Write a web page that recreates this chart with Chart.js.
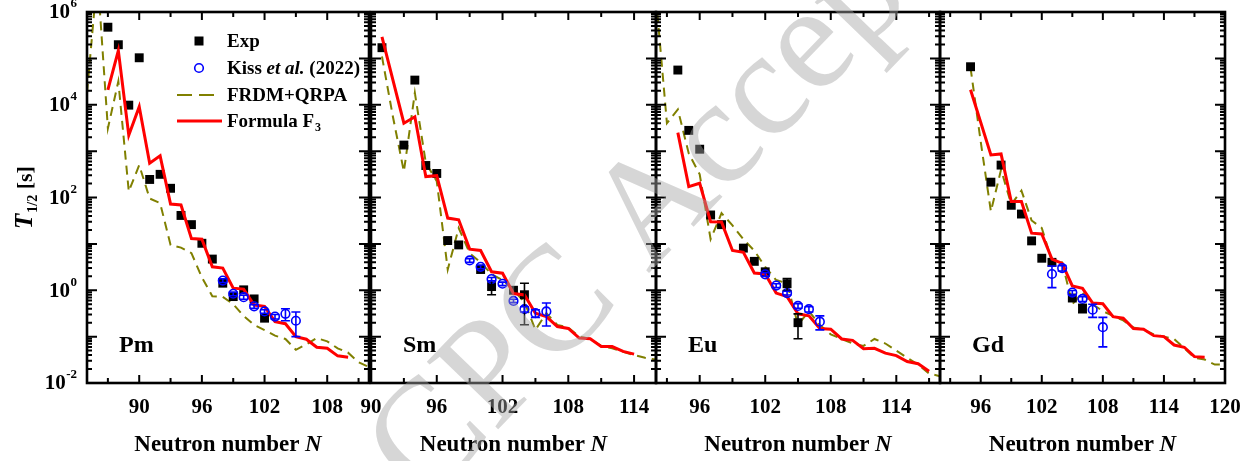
<!DOCTYPE html>
<html><head><meta charset="utf-8">
<script src="https://cdn.jsdelivr.net/npm/chart.js@4/dist/chart.umd.min.js"></script>
<style>
html,body{margin:0;padding:0;background:#fff;}
#wrap{position:relative;width:1255px;height:461px;overflow:hidden;background:#fff;}
#wrap canvas{position:absolute;left:0;top:0;}
</style></head><body>
<div id="wrap">
<canvas id="c0" width="1255" height="461"></canvas>
<canvas id="c1" width="1255" height="461"></canvas>
<canvas id="c2" width="1255" height="461"></canvas>
<canvas id="c3" width="1255" height="461"></canvas>
</div>
<script>
// ---------------- DATA ----------------
// Pm
const pmExpN = [87,88,89,90,91,92,93,94,95,96,97,98,99,100,101,102];
const pmExpT = [4.7e5,1.97e5,9.8e3,1.03e5,245,316,158,41,26,10.3,4.7,1.42,0.73,1.02,0.65,0.25];
const pmExpErr = [0,0,0,0,0,0,0,0,0,0,0,0,0,0,0,0];
const pmKissN = [98,99,100,101,102,103,104,105];
const pmKissT = [1.62,0.84,0.71,0.45,0.35,0.27,0.31,0.22];
const pmKissErr = [0.15,0.08,0.07,0.04,0.03,0.03,0.09,0.12];
const pmFrdmN = [85,86,87,88,89,90,91,92,93,94,95,96,97,98,99,100,101,102,103,104,105,106,107,108,109,110,111,112];
const pmFrdmT = [1.8e4,6.3e6,3.1e3,3.2e4,135,500,95,76,9.5,8.3,6.3,1.9,0.74,0.72,0.5,0.28,0.178,0.138,0.105,0.089,0.052,0.068,0.093,0.079,0.056,0.045,0.028,0.022];
const pmF3N = [87,88,89,90,91,92,93,94,95,96,97,98,99,100,101,102,103,104,105,106,107,108,109,110];
const pmF3T = [2.1e4,1.47e5,2.2e3,9.1e3,550,790,72,69,13,12.6,3.2,3.0,1.11,1.06,0.48,0.45,0.21,0.19,0.10,0.088,0.059,0.056,0.0385,0.036];
// Sm
const smExpN = [91,93,94,95,96,97,98,100,101,103,104];
const smExpT = [1.7e5,1.35e3,3.4e4,490,330,11.8,9.5,2.8,1.2,1.0,0.8];
const smExpErr = [0,0,0,0,0,0,0,0,0.4,0,0.62];
const smKissN = [99,100,101,102,103,104,105,106];
const smKissT = [4.4,3.2,1.74,1.38,0.59,0.39,0.32,0.35];
const smKissErr = [0.4,0.3,0.15,0.12,0.05,0.05,0.06,0.18];
const smFrdmN = [91,92,93,94,95,96,97,98,99,100,101,102,103,104,105,106,107,108,109,110,111,112,113,114,115,116];
const smFrdmT = [1.1e5,5.5e3,363,1.8e4,560,224,2.8,22,6.3,4.0,2.2,1.66,1.0,0.56,0.14,0.32,0.178,0.158,0.1,0.089,0.063,0.056,0.047,0.04,0.035,0.032];
const smF3N = [91,93,94,95,96,97,98,99,100,101,102,103,104,105,106,107,108,109,110,111,112,113,114];
const smF3T = [2.9e5,4.0e3,5.5e3,282,295,36,33,7.7,7.2,2.5,2.33,0.85,0.79,0.32,0.27,0.165,0.15,0.093,0.09,0.061,0.061,0.048,0.042];
// Eu
const euExpN = [94,95,96,97,98,100,101,102,104,105];
const euExpT = [5.6e4,2.8e3,1.1e3,42,26,8.1,4.2,2.5,1.38,0.2];
const euExpErr = [0,0,0,0,0,0,0,0,0.4,0.11];
const euKissN = [102,103,104,105,106,107];
const euKissT = [2.2,1.26,0.87,0.46,0.39,0.21];
const euKissErr = [0.2,0.12,0.08,0.05,0.05,0.07];
const euFrdmN = [92,93,94,95,96,97,98,99,100,101,102,103,104,105,106,107,108,109,110,111,112,113,114,115,116,117,118];
const euFrdmT = [2e6,4e3,7.9e3,890,316,12.6,46,25,12.6,7.1,3.2,1.66,1.41,0.178,0.355,0.178,0.112,0.089,0.071,0.063,0.089,0.071,0.05,0.035,0.025,0.016,0.014];
const euF3N = [94,95,96,97,98,99,100,101,102,103,104,105,106,107,108,109,110,111,112,113,114,115,116,117];
const euF3T = [2.5e3,172,203,30,29.5,7.2,6.6,2.35,2.25,0.87,0.73,0.31,0.28,0.15,0.145,0.089,0.083,0.055,0.056,0.044,0.039,0.029,0.026,0.018];
// Gd
const gdExpN = [95,97,98,99,100,101,102,103,105,106];
const gdExpT = [6.6e4,214,500,68,44,11.6,4.9,4.0,0.68,0.41];
const gdExpErr = [0,0,0,0,0,0,0,0,0,0.08];
const gdKissN = [103,104,105,106,107,108];
const gdKissT = [2.24,3.0,0.89,0.65,0.38,0.16];
const gdKissErr = [1.1,0.4,0.1,0.08,0.12,0.1];
const gdFrdmN = [95,96,97,98,99,100,101,102,103,104,105,106,107,108,109,110,111,112,113,114,115,116,117,118,119,120];
const gdFrdmT = [6.3e4,1.6e3,50,400,71,141,32,22,4.2,4.0,0.5,0.89,0.5,0.355,0.28,0.224,0.158,0.141,0.112,0.1,0.089,0.056,0.035,0.032,0.025,0.025];
const gdF3N = [95,97,98,99,100,101,102,103,104,105,106,107,108,109,110,111,112,113,114,115,116,117,118];
const gdF3T = [2.1e4,830,870,82,82,17,16.4,4.7,3.8,1.24,1.1,0.53,0.51,0.27,0.25,0.15,0.145,0.105,0.1,0.066,0.059,0.037,0.036];

// tick labels
const pmXLabels = [90,96,102,108];   const pmXMinor = [87,93,99,105,111];
const smXLabels = [90,96,102,108,114]; const smXMinor = [93,99,105,111];
const euXLabels = [96,102,108,114];  const euXMinor = [93,99,105,111,117];
const gdXLabels = [96,102,108,114,120]; const gdXMinor = [93,99,105,111,117];
const yDecades = [-2,-1,0,1,2,3,4,5,6];
const yLabelExps = [-2,0,2,4,6];
const yMinorMult = [2,3,4,5,6,7,8,9];

const seriesNames = ['Exp','Kiss et al. (2022)','FRDM+QRPA','Formula F3'];
const elementNames = ['Pm','Sm','Eu','Gd'];

// ---------------- LAYOUT / STYLE ----------------
const W = 1255, H = 461, TOP = 12, BOTTOM = 383;
const SERIF = '"Liberation Serif","Times New Roman",serif';
const panels = [
  {left:87, right:369, xmin:85, xmax:112, labels:pmXLabels, minor:pmXMinor,
   exp:[pmExpN,pmExpT,pmExpErr], kiss:[pmKissN,pmKissT,pmKissErr], frdm:[pmFrdmN,pmFrdmT], f3:[pmF3N,pmF3T]},
  {left:371, right:656, xmin:90, xmax:116, labels:smXLabels, minor:smXMinor,
   exp:[smExpN,smExpT,smExpErr], kiss:[smKissN,smKissT,smKissErr], frdm:[smFrdmN,smFrdmT], f3:[smF3N,smF3T]},
  {left:656, right:940, xmin:92, xmax:118, labels:euXLabels, minor:euXMinor,
   exp:[euExpN,euExpT,euExpErr], kiss:[euKissN,euKissT,euKissErr], frdm:[euFrdmN,euFrdmT], f3:[euF3N,euF3T]},
  {left:940, right:1225, xmin:92, xmax:120, labels:gdXLabels, minor:gdXMinor,
   exp:[gdExpN,gdExpT,gdExpErr], kiss:[gdKissN,gdKissT,gdKissErr], frdm:[gdFrdmN,gdFrdmT], f3:[gdF3N,gdF3T]}
];
const pts = (ns, ts) => ns.map((n,i)=>({x:n, y:ts[i]}));

function errorBars(ctx, chart, set, color){
  const x = chart.scales.x, y = chart.scales.y, a = chart.chartArea;
  const [ns, ts, es] = set;
  ctx.save();
  ctx.beginPath(); ctx.rect(a.left, a.top, a.right-a.left, a.bottom-a.top); ctx.clip();
  ctx.strokeStyle = color; ctx.lineWidth = 1.6;
  ns.forEach((n,i)=>{
    const e = es[i]; if(!e) return;
    const px = x.getPixelForValue(n);
    const lo = Math.max(ts[i]-e, 1e-3);
    const y1 = y.getPixelForValue(lo), y2 = y.getPixelForValue(ts[i]+e);
    ctx.beginPath();
    ctx.moveTo(px, y1); ctx.lineTo(px, y2);
    ctx.moveTo(px-4.5, y1); ctx.lineTo(px+4.5, y1);
    ctx.moveTo(px-4.5, y2); ctx.lineTo(px+4.5, y2);
    ctx.stroke();
  });
  ctx.restore();
}

function drawFrame(ctx, chart, p, idx){
  const x = chart.scales.x, y = chart.scales.y, a = chart.chartArea;
  ctx.save();
  ctx.strokeStyle = '#000'; ctx.lineWidth = 2;
  const vt = (px, len) => { ctx.beginPath(); ctx.moveTo(px, a.bottom); ctx.lineTo(px, a.bottom-len); ctx.moveTo(px, a.top); ctx.lineTo(px, a.top+len); ctx.stroke(); };
  const ht = (py, len) => { ctx.beginPath(); ctx.moveTo(a.left, py); ctx.lineTo(a.left+len, py); ctx.moveTo(a.right, py); ctx.lineTo(a.right-len, py); ctx.stroke(); };
  p.labels.forEach(v => { if (v > p.xmin && v < p.xmax) vt(x.getPixelForValue(v), 8); });
  p.minor.forEach(v => vt(x.getPixelForValue(v), 5));
  yDecades.forEach(e => {
    ht(y.getPixelForValue(Math.pow(10,e)), 10);
    if (e < 6) yMinorMult.forEach(m => ht(y.getPixelForValue(m*Math.pow(10,e)), 5));
  });
  ctx.lineWidth = 2.6;
  ctx.strokeRect(a.left, a.top, a.right-a.left, a.bottom-a.top);
  // x tick labels
  ctx.fillStyle = '#000';
  ctx.font = 'bold 21px ' + SERIF;
  ctx.textAlign = 'center'; ctx.textBaseline = 'middle';
  p.labels.forEach(v => ctx.fillText(String(v), x.getPixelForValue(v), 408));
  // x title
  const cx = (a.left + a.right)/2;
  ctx.font = 'bold 23px ' + SERIF;
  const t1 = 'Neutron number ';
  const w1 = ctx.measureText(t1).width;
  ctx.font = 'italic bold 23px ' + SERIF;
  const w2 = ctx.measureText('N').width;
  const sx = cx - (w1+w2)/2;
  ctx.textAlign = 'left';
  ctx.font = 'bold 23px ' + SERIF; ctx.fillText(t1, sx, 445);
  ctx.font = 'italic bold 23px ' + SERIF; ctx.fillText('N', sx + w1, 445);
  // element label
  ctx.font = 'bold 24px ' + SERIF; ctx.textBaseline = 'alphabetic';
  ctx.fillText(elementNames[idx], a.left + 32, 352);
  ctx.restore();
}

function drawYAxis(ctx, chart){
  const y = chart.scales.y;
  ctx.save();
  ctx.fillStyle = '#000'; ctx.textBaseline = 'middle';
  yLabelExps.forEach(e => {
    const py = y.getPixelForValue(Math.pow(10,e));
    const sup = e < 0 ? '-' + Math.abs(e) : String(e);
    ctx.font = 'bold 13px ' + SERIF;
    const ws = ctx.measureText(sup).width;
    const right = 77;
    ctx.textAlign = 'left';
    ctx.fillText(sup, right - ws, py - 8);
    ctx.font = 'bold 21px ' + SERIF;
    ctx.textAlign = 'right';
    ctx.fillText('10', right - ws - 0.5, py + 1);
  });
  // y title: T_{1/2} [s]
  ctx.translate(24, 198); ctx.rotate(-Math.PI/2);
  ctx.font = 'italic bold 25px ' + SERIF; const wT = ctx.measureText('T').width;
  ctx.font = 'bold 14px ' + SERIF; const wS = ctx.measureText('1/2').width;
  ctx.font = 'bold 22px ' + SERIF; const wR = ctx.measureText(' [s]').width;
  let sx = -(wT + wS + wR)/2;
  ctx.textAlign = 'left'; ctx.textBaseline = 'alphabetic';
  ctx.font = 'italic bold 25px ' + SERIF; ctx.fillText('T', sx, 8); sx += wT + 1;
  ctx.font = 'bold 14px ' + SERIF; ctx.fillText('1/2', sx, 13); sx += wS;
  ctx.font = 'bold 22px ' + SERIF; ctx.fillText(' [s]', sx, 8);
  ctx.restore();
}

function drawLegend(ctx){
  ctx.save();
  ctx.fillStyle = '#000';
  ctx.fillRect(194.5, 36.5, 9, 9);
  ctx.strokeStyle = '#0000ff'; ctx.lineWidth = 1.6;
  ctx.beginPath(); ctx.arc(199, 68, 4.3, 0, 2*Math.PI); ctx.stroke();
  ctx.strokeStyle = '#808000'; ctx.lineWidth = 2; ctx.setLineDash([15,7]);
  ctx.beginPath(); ctx.moveTo(177, 95); ctx.lineTo(214, 95); ctx.stroke();
  ctx.setLineDash([]);
  ctx.strokeStyle = '#ff0000'; ctx.lineWidth = 3;
  ctx.beginPath(); ctx.moveTo(177, 121); ctx.lineTo(222, 121); ctx.stroke();
  ctx.fillStyle = '#000'; ctx.textBaseline = 'middle'; ctx.textAlign = 'left';
  const F = 'bold 19px ' + SERIF, FI = 'italic bold 19px ' + SERIF;
  ctx.font = F; ctx.fillText(seriesNames[0], 227, 42);
  let x = 227;
  ctx.font = F; ctx.fillText('Kiss ', x, 69); x += ctx.measureText('Kiss ').width;
  ctx.font = FI; ctx.fillText('et al.', x, 69); x += ctx.measureText('et al.').width;
  ctx.font = F; ctx.fillText(' (2022)', x, 69);
  ctx.fillText(seriesNames[2], 227, 96);
  ctx.fillText('Formula F', 227, 122);
  const wf = ctx.measureText('Formula F').width;
  ctx.font = 'bold 12px ' + SERIF; ctx.fillText('3', 227 + wf + 1, 128);
  ctx.restore();
}

function drawWatermark(ctx){
  ctx.save();
  ctx.translate(425, 505); ctx.rotate(-46*Math.PI/180);
  ctx.font = '150px ' + SERIF;
  ctx.fillStyle = 'rgba(165,165,165,0.45)';
  ctx.textBaseline = 'alphabetic'; ctx.textAlign = 'left';
  ctx.fillText('CPC Accepted', 0, 0);
  ctx.restore();
}

panels.forEach((p, idx) => {
  const ctx = document.getElementById('c'+idx).getContext('2d');
  new Chart(ctx, {
    type: 'scatter',
    data: { datasets: [
      {label: seriesNames[2], data: pts(p.frdm[0], p.frdm[1]), showLine:true, borderColor:'#808000', borderWidth:2, borderDash:[9,6], pointRadius:0, order:4},
      {label: seriesNames[3], data: pts(p.f3[0], p.f3[1]), showLine:true, borderColor:'#ff0000', borderWidth:3, pointRadius:0, order:2},
      {label: seriesNames[0], data: pts(p.exp[0], p.exp[1]), pointStyle:'rect', pointRadius:6.3, backgroundColor:'#000', borderColor:'#000', borderWidth:0, order:3},
      {label: seriesNames[1], data: pts(p.kiss[0], p.kiss[1]), pointStyle:'circle', pointRadius:4.3, backgroundColor:'rgba(255,255,255,0)', borderColor:'#0000ff', borderWidth:1.6, order:1}
    ]},
    options: {
      responsive:false, animation:false, devicePixelRatio:1, events:[],
      layout:{padding:{left: idx===0 ? 0 : p.left, right: W - p.right, top: TOP, bottom: 0}},
      plugins:{legend:{display:false}, tooltip:{enabled:false}},
      scales:{
        x:{type:'linear', min:p.xmin, max:p.xmax, grid:{display:false}, border:{display:false}, ticks:{display:false},
           afterFit: s => { s.height = H - BOTTOM; }},
        y:{type:'logarithmic', min:1e-2, max:1e6, grid:{display:false}, border:{display:false}, ticks:{display:false},
           afterFit: s => { s.width = idx===0 ? p.left : 0; }}
      }
    },
    plugins:[{
      id:'decor'+idx,
      afterDatasetsDraw(chart){
        errorBars(chart.ctx, chart, p.exp, '#000');
        errorBars(chart.ctx, chart, p.kiss, '#0000ff');
      },
      afterDraw(chart){
        const c = chart.ctx;
        drawFrame(c, chart, p, idx);
        if (idx === 0) { drawYAxis(c, chart); drawLegend(c); }
        if (idx === 3) drawWatermark(c);
      }
    }]
  });
});
</script>
</body></html>
